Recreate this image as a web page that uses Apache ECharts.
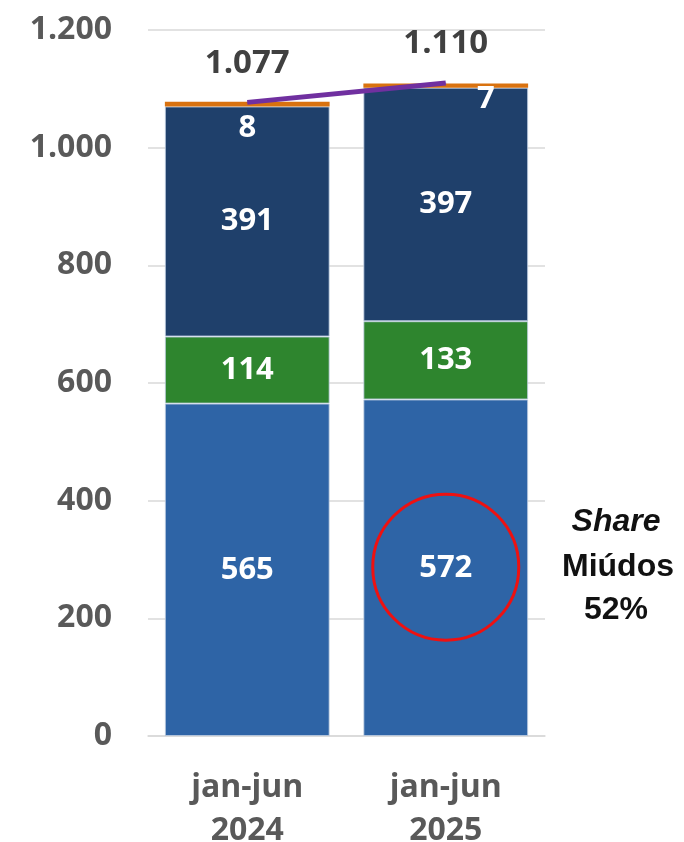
<!DOCTYPE html>
<html>
<head>
<meta charset="utf-8">
<script src="https://cdn.jsdelivr.net/npm/echarts@6/dist/echarts.min.js"></script>
<style>
  html, body { margin: 0; padding: 0; background: #fff; }
  #chart { width: 684px; height: 842px; }
</style>
</head>
<body>
<div id="chart"></div>
<script>
// dados (mil t)
var categories = ['jan-jun\n2024', 'jan-jun\n2025'];
var miudos = [565, 572];
var verdes = [114, 133];
var escuros = [391, 397];
var outros = [8, 7];
var totais = [1077, 1110];
var yTicks = [0, 200, 400, 600, 800, 1000, 1200];

// formato pt: 1.077
var fmt = function (v) {
  return String(v).replace(/\B(?=(\d{3})+(?!\d))/g, '.');
};

var chart = echarts.init(document.getElementById('chart'));

var insideLabel = {
  show: true,
  position: 'inside',
  color: '#fff',
  fontFamily: 'Open Sans',
  fontWeight: 'bold',
  fontSize: 31
};
var barBorder = { borderColor: 'rgba(190,205,225,0.8)', borderWidth: 1 };

chart.setOption({
  animation: false,
  grid: { left: 148, right: 139, top: 30, bottom: 106, outerBoundsMode: 'none', containLabel: false },
  xAxis: {
    type: 'category',
    data: categories,
    axisLine: { show: true, lineStyle: { color: '#d9d9d9', width: 1.5 } },
    axisTick: { show: false },
    axisLabel: {
      color: '#595959',
      fontFamily: 'Open Sans',
      fontWeight: 'bold',
      fontSize: 32,
      lineHeight: 43,
      margin: 30
    }
  },
  yAxis: {
    type: 'value',
    min: yTicks[0],
    max: yTicks[yTicks.length - 1],
    interval: 200,
    axisLine: { show: false },
    axisTick: { show: false },
    splitLine: { lineStyle: { color: '#d9d9d9', width: 1.5 } },
    axisLabel: {
      color: '#595959',
      fontFamily: 'Open Sans',
      fontWeight: 'bold',
      fontSize: 32,
      margin: 36,
      formatter: fmt
    }
  },
  series: [
    {
      name: 'Miúdos', type: 'bar', stack: 'total', barWidth: '83%',
      data: miudos,
      itemStyle: Object.assign({ color: '#2e64a6' }, barBorder),
      label: insideLabel
    },
    {
      name: 'Verde', type: 'bar', stack: 'total',
      data: verdes,
      itemStyle: Object.assign({ color: '#2e852e' }, barBorder),
      label: insideLabel
    },
    {
      name: 'Escuro', type: 'bar', stack: 'total',
      data: escuros,
      itemStyle: Object.assign({ color: '#1f406b' }, barBorder),
      label: insideLabel
    },
    {
      name: 'Outros', type: 'bar', stack: 'total',
      data: [
        { value: outros[0], label: { offset: [0, 0] } },
        { value: outros[1], label: { offset: [40, -10] } }
      ],
      itemStyle: { color: '#d9720f' },
      label: {
        show: true,
        position: 'bottom',
        distance: 6,
        color: '#fff',
        fontFamily: 'Open Sans',
        fontWeight: 'bold',
        fontSize: 31
      }
    },
    {
      name: 'Total', type: 'line',
      data: totais,
      symbol: 'circle',
      symbolSize: 1,
      showSymbol: true,
      itemStyle: { color: '#7030a0' },
      lineStyle: { color: '#7030a0', width: 5 },
      label: {
        show: true,
        position: 'top',
        distance: 22,
        color: '#404040',
        fontFamily: 'Open Sans',
        fontWeight: 'bold',
        fontSize: 33,
        formatter: function (p) { return fmt(p.value); }
      },
      z: 5
    }
  ]
});

// círculo vermelho e texto de share
var c = chart.convertToPixel({ gridIndex: 0 }, [categories[1], 287]);
var shareFont = '32px "Liberation Sans"';
chart.setOption({
  graphic: [
    {
      type: 'circle',
      shape: { cx: c[0], cy: c[1], r: 73 },
      style: { fill: 'none', stroke: '#ee1111', lineWidth: 3 },
      z: 10
    },
    {
      type: 'text', x: 616, y: 522,
      style: { text: 'Share', fill: '#111', font: 'italic bold ' + shareFont, align: 'center', verticalAlign: 'middle' }
    },
    {
      type: 'text', x: 618, y: 567,
      style: { text: 'Miúdos', fill: '#111', font: 'bold ' + shareFont, align: 'center', verticalAlign: 'middle' }
    },
    {
      type: 'text', x: 616, y: 610,
      style: { text: '52%', fill: '#111', font: 'bold ' + shareFont, align: 'center', verticalAlign: 'middle' }
    }
  ]
});
</script>
</body>
</html>
